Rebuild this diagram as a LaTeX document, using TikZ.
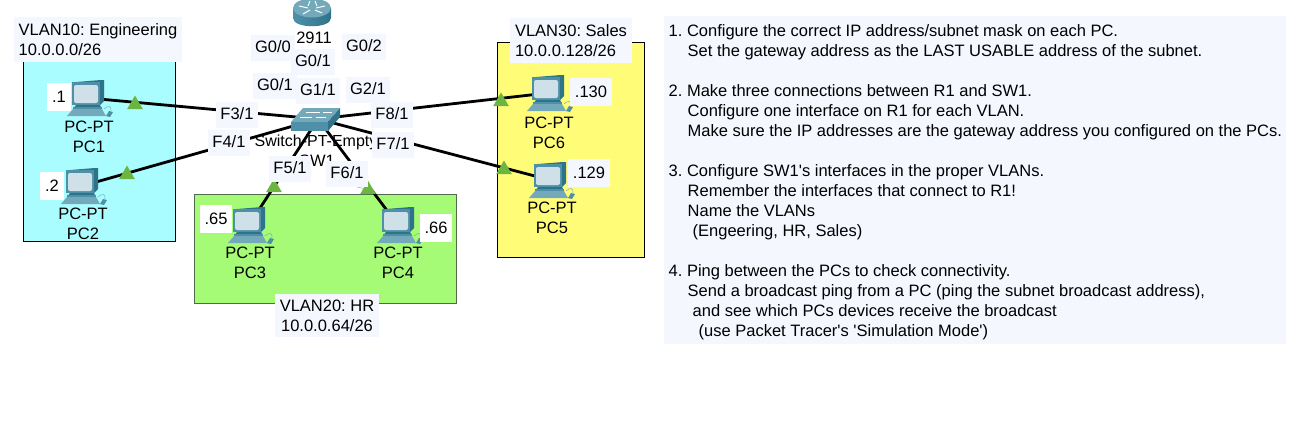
\documentclass[tikz,border=0pt]{standalone}
\usepackage{fontspec}
\setmainfont{Liberation Sans}
\usetikzlibrary{shapes.geometric}
\frenchspacing
\definecolor{panelbg}{HTML}{F5F7FF}
\definecolor{vlanblue}{HTML}{A9FDFF}
\definecolor{vlangreen}{HTML}{A6FB76}
\definecolor{vlanyellow}{HTML}{FFFD78}
\definecolor{vlanedge}{HTML}{4F6B4A}
\definecolor{linkgreen}{HTML}{6CB540}
\definecolor{ciscodark}{HTML}{2F7389}
\definecolor{ciscomid}{HTML}{4E90A8}
\definecolor{ciscolight}{HTML}{73A9BB}
\definecolor{screenbg}{HTML}{CFE0E8}
\tikzset{
  every node/.style = {font=\fontsize{16.5}{20}\selectfont, text=black},
  vlanbox/.style = {draw=black, line width=1pt},
  devlabel/.style = {align=center, inner sep=0pt},
  iflabel/.style = {fill=panelbg, inner xsep=4.5pt, inner ysep=3pt, text height=14pt, text depth=6pt, minimum width=40pt},
  iplabel/.style = {inner xsep=5pt, inner ysep=0pt, minimum height=28pt},
  vlanlabel/.style = {fill=panelbg, inner xsep=5pt, inner ysep=6pt},
  linkup/.style = {regular polygon, regular polygon sides=3, fill=linkgreen, inner sep=0pt, minimum size=18pt},
  anchorpt/.style = {inner sep=0pt, minimum size=0pt},
  pcicon/.pic = {
    \fill[ciscodark] (-12,-16) -- (13,-18) -- (16,-18) -- (16,3) -- (12,7) -- (-12,7) -- cycle;
    \fill[ciscomid] (-16,-16) rectangle (12,7);
    \fill[screenbg, rounded corners=2pt] (-14,-13) rectangle (10,5);
    \fill[ciscodark] (-12,7) -- (12,7) -- (14,11) -- (-15,11) -- cycle;
    \fill[ciscomid] (-15,9) -- (14,9) -- (14,11) -- (-15,11) -- cycle;
    \fill[ciscolight] (-15,11) -- (14,11) -- (18,18) -- (-21,18) -- cycle;
    \fill[ciscomid] (21,13) -- (25,14) -- (22,19) -- (18,18) -- cycle;
    \draw[ciscolight, line width=.5pt] (16,11) .. controls (20,7) and (24,8) .. (23,13);
  },
  routericon/.pic = {
    \shade[left color=ciscomid, middle color=white!75!ciscolight, right color=ciscodark]
      (-19,-1) -- (-19,9) .. controls (-19,20) and (19,20) .. (19,9) -- (19,-1) -- cycle;
    \fill[ciscolight] (0,-1) ellipse[x radius=19, y radius=9.5];
    \draw[white, line width=1pt] (-13,-3) -- (-4,-1) (13,-3) -- (4,-1) (-9,5) -- (-2,1) (10,4) -- (3,1) (-2,-8) -- (-4,-3) (3,-8) -- (5,-3);
  },
  switchicon/.pic = {
    \fill[ciscolight] (-15,-11) -- (22,-11) -- (10,3) -- (-27,3) -- cycle;
    \fill[ciscomid] (-27,3) rectangle (10,12);
    \fill[ciscodark] (10,3) -- (22,-11) -- (22,-2) -- (10,12) -- cycle;
    \draw[white, line width=.5pt] (-12,-7) -- (2,-7) (5,-7) -- (14,-7) (-18,-2) -- (-6,-2) (-2,-2) -- (8,-2);
  }
}
\begin{document}
\begin{tikzpicture}[x=1pt, y=-1pt]
\useasboundingbox (0,0) rectangle (1302,426);
\fill[panelbg] (664,16) rectangle (1286,344);
\draw[vlanbox, fill=vlanblue] (23,50) rectangle (175.5,241);
\draw[vlanbox, fill=vlanyellow] (497,42) rectangle (644,257);
\draw[vlanbox, draw=vlanedge, fill=vlangreen] (194,194) rectangle (456,303);
\begin{scope}[every node/.append style = {anchorpt}]
\node (R1) at (312,9) {};
\node (SW1) at (318,119) {};
\node (PC1) at (88,98) {};
\node (PC2) at (82,186) {};
\node (PC3) at (249,225) {};
\node (PC4) at (398,225) {};
\node (PC5) at (550,180) {};
\node (PC6) at (548,93) {};
\end{scope}
\begin{scope}[every edge/.style = {draw=black, line width=2.8pt}]
\path (SW1) edge (PC1);
\path (SW1) edge (PC2);
\path (SW1) edge (PC3);
\path (SW1) edge (PC4);
\path (SW1) edge (PC5);
\path (SW1) edge (PC6);
\end{scope}
\pic at (R1) {routericon};
\pic at (SW1) {switchicon};
\pic at (PC1) {pcicon};
\pic at (PC2) {pcicon};
\pic at (PC3) {pcicon};
\pic at (PC4) {pcicon};
\pic at (PC5) {pcicon};
\pic at (PC6) {pcicon};
\node[linkup] (up1) at (135,104.5) {};
\node[linkup] (up2) at (127,174.5) {};
\node[linkup] (up3) at (274,187.5) {};
\node[linkup] (up4) at (368,189.5) {};
\node[linkup] (up5) at (504,169.5) {};
\node[linkup] (up6) at (501,101.5) {};
\draw[linkgreen] (357,187) -- (up4);
\node[devlabel, font=\fontsize{16}{20}\selectfont] (swtype) at (316,142) {Switch-PT-Empty};
\node[devlabel] (swname) at (317,161) {SW1};
\node[devlabel] (rtname) at (314,38) {2911};
\begin{scope}[every node/.append style = {devlabel}]
\node (lab1) at (89,136.5) {PC-PT\\PC1};
\node (lab2) at (83,223.5) {PC-PT\\PC2};
\node (lab3) at (250,262.5) {PC-PT\\PC3};
\node (lab4) at (398,262.5) {PC-PT\\PC4};
\node (lab5) at (552,217.5) {PC-PT\\PC5};
\node (lab6) at (549,132.5) {PC-PT\\PC6};
\end{scope}
\begin{scope}[every node/.append style = {iflabel}]
\node (g00) at (273,48) {G0/0};
\node (g01r) at (313,62) {G0/1};
\node (g02) at (364,47) {G0/2};
\node (g01) at (275,86) {G0/1};
\node (g11) at (318,91) {G1/1};
\node (g21) at (368,90) {G2/1};
\node (f31) at (237,115) {F3/1};
\node (f41) at (229,143) {F4/1};
\node (f51) at (290,169) {F5/1};
\node (f61) at (347,174) {F6/1};
\node (f71) at (393,145) {F7/1};
\node (f81) at (392,115) {F8/1};
\end{scope}
\begin{scope}[every node/.append style = {iplabel}]
\node[fill=white] (ip1) at (59,97) {.1};
\node[fill=white] (ip2) at (52,186) {.2};
\node[fill=white] (ip3) at (216,219) {.65};
\node[fill=white] (ip4) at (436,228) {.66};
\node[fill=panelbg] (ip5) at (589,173) {.129};
\node[fill=panelbg] (ip6) at (591,92) {.130};
\end{scope}
\begin{scope}[every node/.append style = {vlanlabel}]
\node[align=left] (vlan10) at (98,39.5) {VLAN10: Engineering\\10.0.0.0/26};
\node[align=left] (vlan30) at (571,40.5) {VLAN30: Sales\\10.0.0.128/26};
\node[align=center] (vlan20) at (327,315.5) {VLAN20: HR\\10.0.0.64/26};
\end{scope}
\node[align=left, anchor=north west, inner sep=0pt] (tasks) at (668.5,24) {%
1. Configure the correct IP address/subnet mask on each PC.\\
\hspace*{19pt}Set the gateway address as the LAST USABLE address of the subnet.\\[20pt]
2. Make three connections between R1 and SW1.\\
\hspace*{19pt}Configure one interface on R1 for each VLAN.\\
\hspace*{19pt}Make sure the IP addresses are the gateway address you configured on the PCs.\\[20pt]
3. Configure SW1\textquotesingle s interfaces in the proper VLANs.\\
\hspace*{19pt}Remember the interfaces that connect to R1!\\
\hspace*{19pt}Name the VLANs\\
\hspace*{24pt}(Engeering, HR, Sales)\\[20pt]
4. Ping between the PCs to check connectivity.\\
\hspace*{19pt}Send a broadcast ping from a PC (ping the subnet broadcast address),\\
\hspace*{24pt}and see which PCs devices receive the broadcast\\
\hspace*{30pt}(use Packet Tracer\textquotesingle s \textquotesingle Simulation Mode\textquotesingle)};
\end{tikzpicture}
\end{document}
